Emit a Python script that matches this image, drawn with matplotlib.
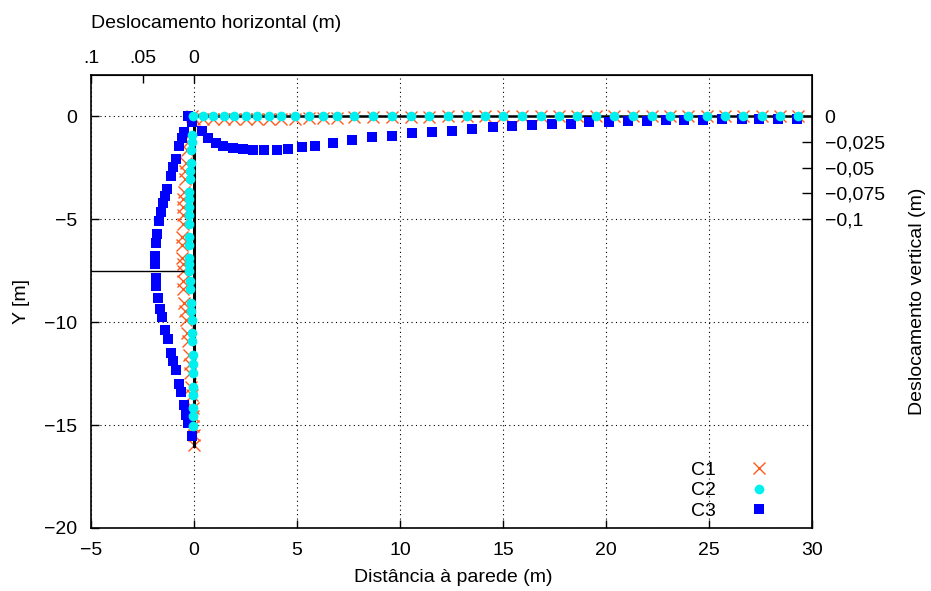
import numpy as np
import matplotlib
matplotlib.use("Agg")
import matplotlib.pyplot as plt

plt.rcParams['font.family'] = ['Liberation Sans', 'DejaVu Sans']
plt.rcParams['font.size'] = 14

# --- data (deformed shape, displacements x50) ---
# wall nodes (y) shared by C1 / C2
y_wall = [0.0, -0.89, -1.25, -1.62, -2.27, -2.67, -3.07, -3.67, -4.04, -4.42,
          -4.82, -5.23, -5.87, -6.26, -6.88, -7.2, -7.52, -8.01, -8.41, -9.06,
          -9.47, -9.92, -10.52, -10.92, -11.6, -12.05, -12.46, -13.14, -13.54,
          -14.16, -14.56, -15.05]

c1_wall_x = [-0.12, -0.25, -0.3, -0.34, -0.4, -0.43, -0.46, -0.49, -0.51, -0.53,
             -0.54, -0.55, -0.56, -0.56, -0.56, -0.55, -0.55, -0.53, -0.51, -0.47,
             -0.44, -0.4, -0.35, -0.31, -0.25, -0.21, -0.18, -0.13, -0.1,
             -0.07, -0.05, -0.03, -0.02, -0.01]
c1_wall_y = y_wall + [-15.5, -15.95]

c2_wall_x = [-0.03, -0.08, -0.11, -0.15, -0.16, -0.19, -0.19, -0.23, -0.24, -0.26,
             -0.26, -0.26, -0.26, -0.26, -0.24, -0.24, -0.23, -0.19, -0.19, -0.16,
             -0.15, -0.11, -0.11, -0.1, -0.06, -0.06, -0.06, -0.06, -0.06,
             -0.03, -0.03, -0.03]
c2_wall_y = y_wall

# ground surface nodes (x) shared by C1 / C2
x_surf = [0.42, 0.94, 1.46, 1.94, 2.51, 3.07, 3.64, 4.21, 4.9, 5.58, 6.25, 6.93,
          7.77, 8.71, 9.61, 10.52, 11.42, 12.33, 13.23, 14.13, 15.02, 15.9, 16.83,
          17.72, 18.6, 19.51, 20.4, 21.31, 22.21, 23.11, 23.99, 24.89, 25.78,
          26.67, 27.56, 28.45, 29.34]
c1_surf_y = [-0.15, -0.16, -0.16, -0.16, -0.15, -0.15, -0.14, -0.13, -0.12, -0.1,
             -0.09, -0.07, -0.05, -0.04, -0.03, -0.02, -0.02, -0.01, -0.01, -0.01,
             -0.01, -0.01, -0.01, -0.01, -0.01, -0.01, -0.01, -0.01, -0.01, -0.01,
             -0.01, -0.01, -0.01, -0.01, -0.01, -0.01, -0.01]
c2_surf_y = [0.0] * len(x_surf)

c3_wall_x = [-0.28, -0.08, -0.47, -0.6, -0.71, -0.87, -1.0, -1.1, -1.29, -1.41,
             -1.52, -1.6, -1.68, -1.78, -1.84, -1.88, -1.88, -1.86, -1.83, -1.73,
             -1.65, -1.54, -1.39, -1.28, -1.12, -1.0, -0.86, -0.73, -0.62, -0.47,
             -0.39, -0.28, -0.11]
c3_wall_y = [0.0, -0.28, -0.76, -1.08, -1.46, -2.1, -2.48, -2.91, -3.56, -3.88,
             -4.24, -4.66, -5.1, -5.74, -6.15, -6.8, -7.2, -7.85, -8.25, -8.85,
             -9.34, -9.76, -10.4, -10.84, -11.49, -11.89, -12.35, -13.0, -13.4,
             -14.03, -14.49, -14.91, -15.53]
c3_surf_x = [0.37, 0.70, 1.05, 1.42, 1.91, 2.4, 2.88, 3.42, 4.01, 4.58, 5.23, 5.87,
             6.76, 7.68, 8.66, 9.63, 10.6, 11.57, 12.54, 13.51, 14.5, 15.45, 16.39,
             17.36, 18.29, 19.19, 20.16, 21.08, 21.98, 22.9, 23.8, 24.72, 25.65,
             26.59, 27.44, 28.36, 29.29]
c3_surf_y = [-0.70, -1.08, -1.29, -1.43, -1.54, -1.59, -1.62, -1.62, -1.62, -1.57,
             -1.52, -1.43, -1.28, -1.18, -1.03, -0.94, -0.84, -0.78, -0.70, -0.60,
             -0.53, -0.49, -0.44, -0.40, -0.36, -0.29, -0.29, -0.24, -0.24, -0.19,
             -0.19, -0.19, -0.16, -0.15, -0.15, -0.15, -0.15]

wall_top, wall_bottom = 0.0, -16.0
strut_y, strut_x = -7.5, [-5.0, -0.5]
scale = 50.0

fig = plt.figure(figsize=(9.31, 5.91), dpi=100)
ax = fig.add_axes([91 / 931, 1 - 528 / 591, (812 - 91) / 931, (528 - 75) / 591])

ax.set_xlim(-5, 30)
ax.set_ylim(-20, 2)
ax.set_xticks(np.arange(-5, 31, 5))
ax.set_yticks(np.arange(-20, 1, 5))
ax.grid(True, color='black', linestyle=(0, (1, 3)), linewidth=0.8)
ax.tick_params(direction='in', length=6, width=1, top=False, right=False)
ax.tick_params(axis='x', pad=10)
ax.tick_params(axis='y', pad=10)
for s in ax.spines.values():
    s.set_linewidth(1.2)

# wall, ground and strut
ax.plot([0, 0], [wall_top, wall_bottom], color='black', lw=2.2, zorder=2.5)
ax.plot([0, 30], [0, 0], color='black', lw=1.8, zorder=2.5)
ax.plot(strut_x, [strut_y, strut_y], color='black', lw=1, zorder=2.5)

h1, = ax.plot(c1_wall_x + [0.0] + x_surf, c1_wall_y + [-0.12] + c1_surf_y,
              linestyle='none', marker='x', color='#ff5a1e', ms=8.5, mew=1,
              zorder=2, label='C1')
h3, = ax.plot(c3_wall_x + c3_surf_x, c3_wall_y + c3_surf_y,
              linestyle='none', marker='s', color='#0000ff', ms=7, mew=0,
              zorder=3, label='C3')
h2, = ax.plot(c2_wall_x + x_surf, c2_wall_y + c2_surf_y,
              linestyle='none', marker='o', color='#00f0f0', ms=7, mew=0,
              zorder=4, label='C2')

ax.legend([h1, h2, h3], ['C1', 'C2', 'C3'], loc='lower right',
          bbox_to_anchor=(0.953, 0.018), markerfirst=False, frameon=False,
          borderpad=0, borderaxespad=0, handletextpad=1.2, labelspacing=0.15,
          handlelength=2)

# top axis: horizontal displacement
top = ax.secondary_xaxis('top', functions=(lambda x: -x / scale, lambda d: -d * scale))
top.set_xticks([0.1, 0.05, 0.0])
top.set_xticklabels(['.1', '.05', '0'])
top.tick_params(direction='in', length=6, width=1, pad=6)

# right axis: vertical displacement
right = ax.secondary_yaxis('right', functions=(lambda y: y / scale, lambda v: v * scale))
right.set_yticks([0, -0.025, -0.05, -0.075, -0.1])
right.set_yticklabels(['0', '\u22120,025', '\u22120,05', '\u22120,075', '\u22120,1'])
right.tick_params(direction='in', length=7, width=1, pad=9)

fig.text(91 / 931, 1 - 23 / 591, 'Deslocamento horizontal (m)', ha='left', va='center')
fig.text(453 / 931, 1 - 578 / 591, 'Distância à parede (m)', ha='center', va='center')
fig.text(22 / 931, 1 - 301 / 591, 'Y [m]', ha='center', va='center', rotation=90)
fig.text(918 / 931, 1 - 301 / 591, 'Deslocamento vertical (m)', ha='center',
         va='center', rotation=90)

fig.savefig('out.png', dpi=100)
